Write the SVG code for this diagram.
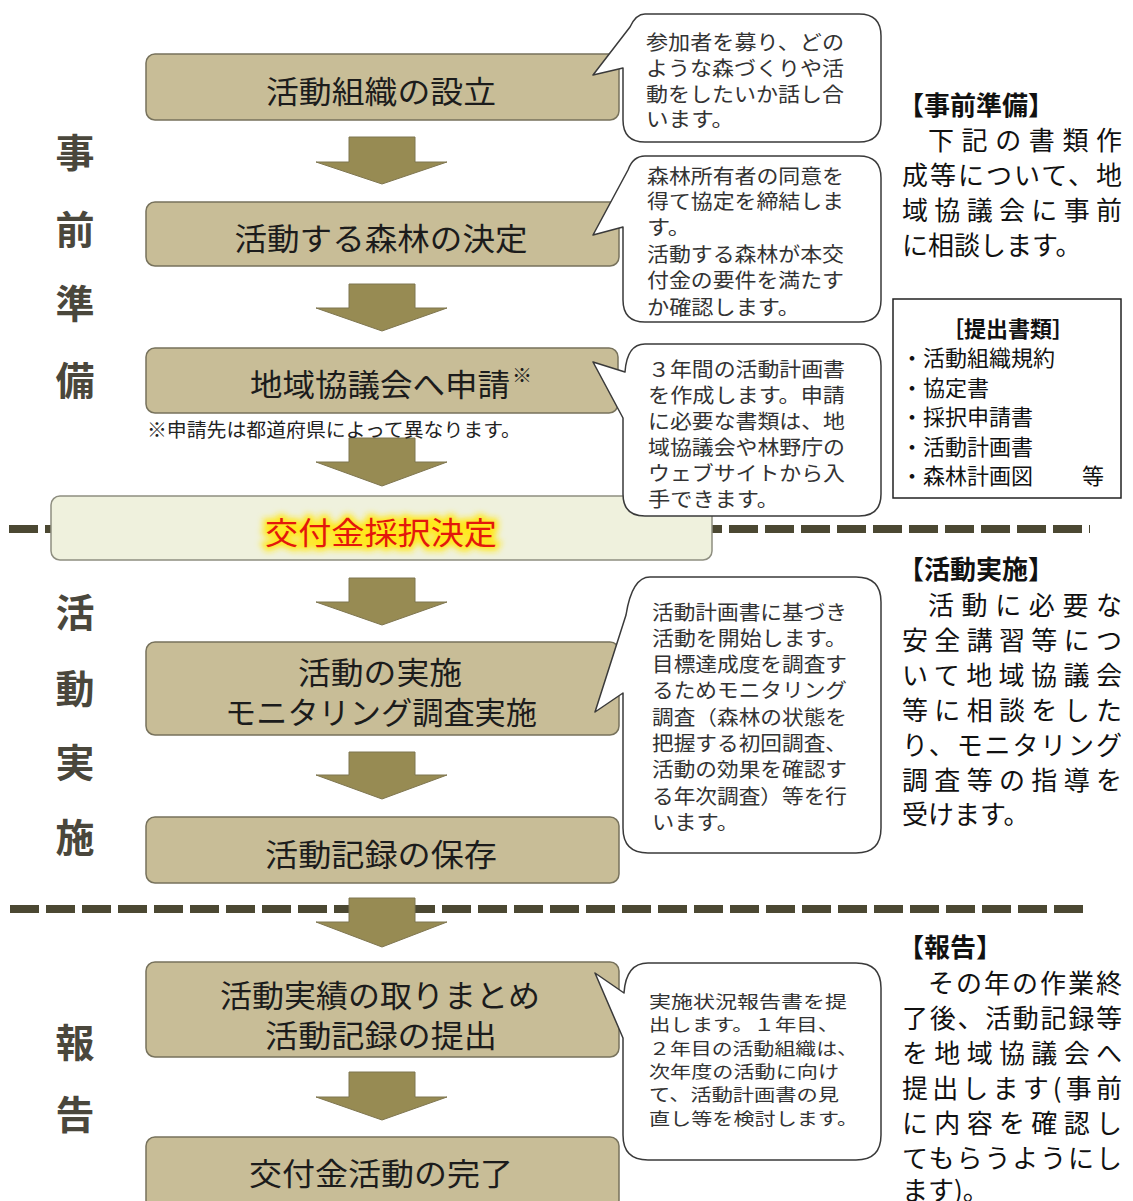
<svg xmlns="http://www.w3.org/2000/svg" width="1133" height="1201" viewBox="0 0 1133 1201">
<defs>
<style>
.box{fill:#c8bd97;stroke:#77725c;stroke-width:1.5}
.pale{fill:#eff1dd;stroke:#8e8e80;stroke-width:1.5}
.arrow{fill:#978b53;stroke:#7f7650;stroke-width:1}
.dash{stroke:#4b4832;stroke-width:8;stroke-dasharray:29 7;fill:none}
.call{fill:#fff;stroke:#3a3a3a;stroke-width:1.5;stroke-linejoin:round}
.bl{font-family:"Noto Sans CJK JP","Noto Sans",sans-serif;font-size:31px;fill:#1c1c1c;text-anchor:middle;dominant-baseline:central}
.ct{font-family:"Noto Sans CJK JP","Noto Sans",sans-serif;font-size:20px;fill:#333;dominant-baseline:central}
.ct5{font-family:"Noto Sans CJK JP","Noto Sans",sans-serif;font-size:17.5px;fill:#333;dominant-baseline:central}
.side{font-family:"Noto Sans CJK JP","Noto Sans",sans-serif;font-size:39px;fill:#4a473c;text-anchor:middle;dominant-baseline:central;font-weight:bold}
.rt{font-family:"Noto Sans CJK JP","Noto Sans",sans-serif;font-size:26px;fill:#111;dominant-baseline:central}
.rh{font-family:"Noto Sans CJK JP","Noto Sans",sans-serif;font-size:26px;fill:#111;font-weight:bold;dominant-baseline:central}
.doc{font-family:"Noto Sans CJK JP","Noto Sans",sans-serif;font-size:22px;fill:#111;dominant-baseline:central}
</style>
<filter id="glow" x="-20%" y="-50%" width="140%" height="200%">
<feGaussianBlur stdDeviation="3"/>
</filter>
</defs>
<rect width="1133" height="1201" fill="#fff"/>

<g id="section-labels">
<text class="side" x="75" y="150">事</text>
<text class="side" x="75" y="227">前</text>
<text class="side" x="75" y="301">準</text>
<text class="side" x="75" y="378">備</text>
<text class="side" x="75" y="610">活</text>
<text class="side" x="75" y="686">動</text>
<text class="side" x="75" y="760">実</text>
<text class="side" x="75" y="835">施</text>
<text class="side" x="75" y="1040">報</text>
<text class="side" x="75" y="1112">告</text>
</g>

<g id="dividers">
<line class="dash" x1="9" y1="529" x2="1090" y2="529"/>
<line class="dash" x1="10" y1="909" x2="1090" y2="909"/>
</g>

<g id="connectors">
<path class="arrow" d="M349,137 H415 V162 H447 L382,184 L316,162 H349 Z"/>
<path class="arrow" d="M349,284 H415 V308 H447 L382,331 L316,308 H349 Z"/>
<path class="arrow" d="M349,438 H415 V462 H447 L382,486 L316,462 H349 Z"/>
<path class="arrow" d="M349,578 H415 V602 H447 L382,625 L316,602 H349 Z"/>
<path class="arrow" d="M349,752 H415 V775 H447 L382,799 L316,775 H349 Z"/>
<path class="arrow" d="M349,898 H415 V922 H447 L382,947 L316,922 H349 Z"/>
<path class="arrow" d="M349,1072 H415 V1097 H447 L382,1120 L316,1097 H349 Z"/>
</g>

<g id="n1"><rect class="box" x="146" y="54" width="473" height="66" rx="9"/>
<text class="bl" x="381" y="89" textLength="230" lengthAdjust="spacingAndGlyphs">活動組織の設立</text></g>
<g id="n2"><rect class="box" x="146" y="202" width="473" height="64" rx="9"/>
<text class="bl" x="381" y="236" textLength="293" lengthAdjust="spacingAndGlyphs">活動する森林の決定</text></g>
<g id="n3"><rect class="box" x="146" y="348" width="472" height="65" rx="9"/>
<text class="bl" x="380" y="382" textLength="260" lengthAdjust="spacingAndGlyphs">地域協議会へ申請</text>
<text x="512" y="374" font-family="Noto Sans CJK JP,sans-serif" font-size="20" fill="#1c1c1c" dominant-baseline="central">※</text>
<text x="147" y="428" font-family="Noto Sans CJK JP,sans-serif" font-size="19" fill="#222" dominant-baseline="central" textLength="374" lengthAdjust="spacingAndGlyphs">※申請先は都道府県によって異なります。</text></g>
<g id="n4"><rect class="pale" x="51" y="496" width="661" height="64" rx="9"/>
<text class="bl" x="381" y="530" textLength="232" lengthAdjust="spacingAndGlyphs" stroke="#ffe81a" stroke-width="7" filter="url(#glow)" style="fill:#ffe81a">交付金採択決定</text>
<text class="bl" x="381" y="530" textLength="232" lengthAdjust="spacingAndGlyphs" style="fill:#e3170c">交付金採択決定</text></g>
<g id="n5"><rect class="box" x="146" y="642" width="473" height="93" rx="9"/>
<text class="bl" x="380" y="670" textLength="164" lengthAdjust="spacingAndGlyphs">活動の実施</text>
<text class="bl" x="381" y="710" textLength="312" lengthAdjust="spacingAndGlyphs">モニタリング調査実施</text></g>
<g id="n6"><rect class="box" x="146" y="817" width="473" height="66" rx="9"/>
<text class="bl" x="381" y="852" textLength="232" lengthAdjust="spacingAndGlyphs">活動記録の保存</text></g>
<g id="n7"><rect class="box" x="146" y="962" width="473" height="95" rx="9"/>
<text class="bl" x="380" y="993" textLength="320" lengthAdjust="spacingAndGlyphs">活動実績の取りまとめ</text>
<text class="bl" x="381" y="1033" textLength="232" lengthAdjust="spacingAndGlyphs">活動記録の提出</text></g>
<g id="n8"><rect class="box" x="146" y="1137" width="473" height="72" rx="9"/>
<text class="bl" x="381" y="1171" textLength="264" lengthAdjust="spacingAndGlyphs">交付金活動の完了</text></g>

<g id="c1"><path class="call" d="M645,14 H859 Q881,14 881,36 V120 Q881,142 859,142 H645 Q623,142 623,120 V68 L593,75 L630,27 Q636,14 645,14 Z"/>
<text class="ct" x="646" y="41" textLength="198" lengthAdjust="spacingAndGlyphs">参加者を募り、どの</text>
<text class="ct" x="646" y="67" textLength="198" lengthAdjust="spacingAndGlyphs">ような森づくりや活</text>
<text class="ct" x="646" y="93" textLength="198" lengthAdjust="spacingAndGlyphs">動をしたいか話し合</text>
<text class="ct" x="646" y="118" textLength="88" lengthAdjust="spacingAndGlyphs">います。</text></g>
<g id="c2"><path class="call" d="M645,156 H859 Q881,156 881,178 V300 Q881,322 859,322 H645 Q623,322 623,300 V227 L593,235 L628,170 Q633,156 645,156 Z"/>
<text class="ct" x="647" y="175" textLength="197" lengthAdjust="spacingAndGlyphs">森林所有者の同意を</text>
<text class="ct" x="647" y="200" textLength="197" lengthAdjust="spacingAndGlyphs">得て協定を締結しま</text>
<text class="ct" x="647" y="226" textLength="44" lengthAdjust="spacingAndGlyphs">す。</text>
<text class="ct" x="647" y="253" textLength="197" lengthAdjust="spacingAndGlyphs">活動する森林が本交</text>
<text class="ct" x="647" y="279" textLength="197" lengthAdjust="spacingAndGlyphs">付金の要件を満たす</text>
<text class="ct" x="647" y="306" textLength="153" lengthAdjust="spacingAndGlyphs">か確認します。</text></g>
<g id="c3"><path class="call" d="M645,344 H859 Q881,344 881,366 V494 Q881,516 859,516 H645 Q623,516 623,494 V418 L593,362 L625,372 Q627,344 645,344 Z"/>
<text class="ct" x="648" y="368" textLength="197" lengthAdjust="spacingAndGlyphs">３年間の活動計画書</text>
<text class="ct" x="648" y="394" textLength="197" lengthAdjust="spacingAndGlyphs">を作成します。申請</text>
<text class="ct" x="648" y="420" textLength="197" lengthAdjust="spacingAndGlyphs">に必要な書類は、地</text>
<text class="ct" x="648" y="446" textLength="197" lengthAdjust="spacingAndGlyphs">域協議会や林野庁の</text>
<text class="ct" x="648" y="472" textLength="197" lengthAdjust="spacingAndGlyphs">ウェブサイトから入</text>
<text class="ct" x="648" y="498" textLength="131" lengthAdjust="spacingAndGlyphs">手できます。</text></g>
<g id="c4"><path class="call" d="M650,577 H856 Q881,577 881,602 V828 Q881,853 856,853 H648 Q623,853 623,828 V693 L595,712 L626,615 Q632,577 650,577 Z"/>
<text class="ct" x="652" y="611" textLength="195" lengthAdjust="spacingAndGlyphs">活動計画書に基づき</text>
<text class="ct" x="652" y="637" textLength="195" lengthAdjust="spacingAndGlyphs">活動を開始します。</text>
<text class="ct" x="652" y="663" textLength="195" lengthAdjust="spacingAndGlyphs">目標達成度を調査す</text>
<text class="ct" x="652" y="689" textLength="195" lengthAdjust="spacingAndGlyphs">るためモニタリング</text>
<text class="ct" x="652" y="716" textLength="195" lengthAdjust="spacingAndGlyphs">調査（森林の状態を</text>
<text class="ct" x="652" y="742" textLength="195" lengthAdjust="spacingAndGlyphs">把握する初回調査、</text>
<text class="ct" x="652" y="768" textLength="195" lengthAdjust="spacingAndGlyphs">活動の効果を確認す</text>
<text class="ct" x="652" y="795" textLength="195" lengthAdjust="spacingAndGlyphs">る年次調査）等を行</text>
<text class="ct" x="652" y="821" textLength="87" lengthAdjust="spacingAndGlyphs">います。</text></g>
<g id="c5"><path class="call" d="M648,963 H856 Q881,963 881,988 V1135 Q881,1160 856,1160 H648 Q623,1160 623,1135 V1038 L595,973 L624,993 Q626,963 648,963 Z"/>
<text class="ct5" x="649" y="1000" textLength="198" lengthAdjust="spacingAndGlyphs">実施状況報告書を提</text>
<text class="ct5" x="649" y="1023" textLength="190" lengthAdjust="spacingAndGlyphs">出します。１年目、</text>
<text class="ct5" x="649" y="1047" textLength="209" lengthAdjust="spacingAndGlyphs">２年目の活動組織は、</text>
<text class="ct5" x="649" y="1070" textLength="190" lengthAdjust="spacingAndGlyphs">次年度の活動に向け</text>
<text class="ct5" x="649" y="1093" textLength="190" lengthAdjust="spacingAndGlyphs">て、活動計画書の見</text>
<text class="ct5" x="649" y="1117" textLength="209" lengthAdjust="spacingAndGlyphs">直し等を検討します。</text></g>

<g id="note-prep">
<text class="rh" x="898" y="103">【事前準備】</text>
<text class="rt" x="928" y="138" textLength="194" lengthAdjust="spacing">下記の書類作</text>
<text class="rt" x="902" y="173" textLength="220" lengthAdjust="spacing">成等について、地</text>
<text class="rt" x="902" y="208" textLength="220" lengthAdjust="spacing">域協議会に事前</text>
<text class="rt" x="902" y="243">に相談します。</text>
</g>
<g id="docs">
<rect x="893" y="299" width="228" height="199" fill="#fff" stroke="#222" stroke-width="1.5"/>
<text class="doc" x="1008" y="327" text-anchor="middle" font-weight="bold">［提出書類］</text>
<text class="doc" x="901" y="356">・活動組織規約</text>
<text class="doc" x="901" y="386">・協定書</text>
<text class="doc" x="901" y="415">・採択申請書</text>
<text class="doc" x="901" y="445">・活動計画書</text>
<text class="doc" x="901" y="474">・森林計画図</text>
<text class="doc" x="1082" y="474">等</text>
</g>
<g id="note-act">
<text class="rh" x="898" y="567">【活動実施】</text>
<text class="rt" x="928" y="603" textLength="194" lengthAdjust="spacing">活動に必要な</text>
<text class="rt" x="902" y="638" textLength="220" lengthAdjust="spacing">安全講習等につ</text>
<text class="rt" x="902" y="673" textLength="220" lengthAdjust="spacing">いて地域協議会</text>
<text class="rt" x="902" y="708" textLength="220" lengthAdjust="spacing">等に相談をした</text>
<text class="rt" x="902" y="743" textLength="220" lengthAdjust="spacing">り、モニタリング</text>
<text class="rt" x="902" y="778" textLength="220" lengthAdjust="spacing">調査等の指導を</text>
<text class="rt" x="902" y="812">受けます。</text>
</g>
<g id="note-report">
<text class="rh" x="898" y="945">【報告】</text>
<text class="rt" x="928" y="981" textLength="194" lengthAdjust="spacing">その年の作業終</text>
<text class="rt" x="902" y="1016" textLength="220" lengthAdjust="spacing">了後、活動記録等</text>
<text class="rt" x="902" y="1051" textLength="220" lengthAdjust="spacing">を地域協議会へ</text>
<text class="rt" x="902" y="1086" textLength="220" lengthAdjust="spacing">提出します(事前</text>
<text class="rt" x="902" y="1121" textLength="220" lengthAdjust="spacing">に内容を確認し</text>
<text class="rt" x="902" y="1156" textLength="220" lengthAdjust="spacing">てもらうようにし</text>
<text class="rt" x="902" y="1188">ます)。</text>
</g>
</svg>
